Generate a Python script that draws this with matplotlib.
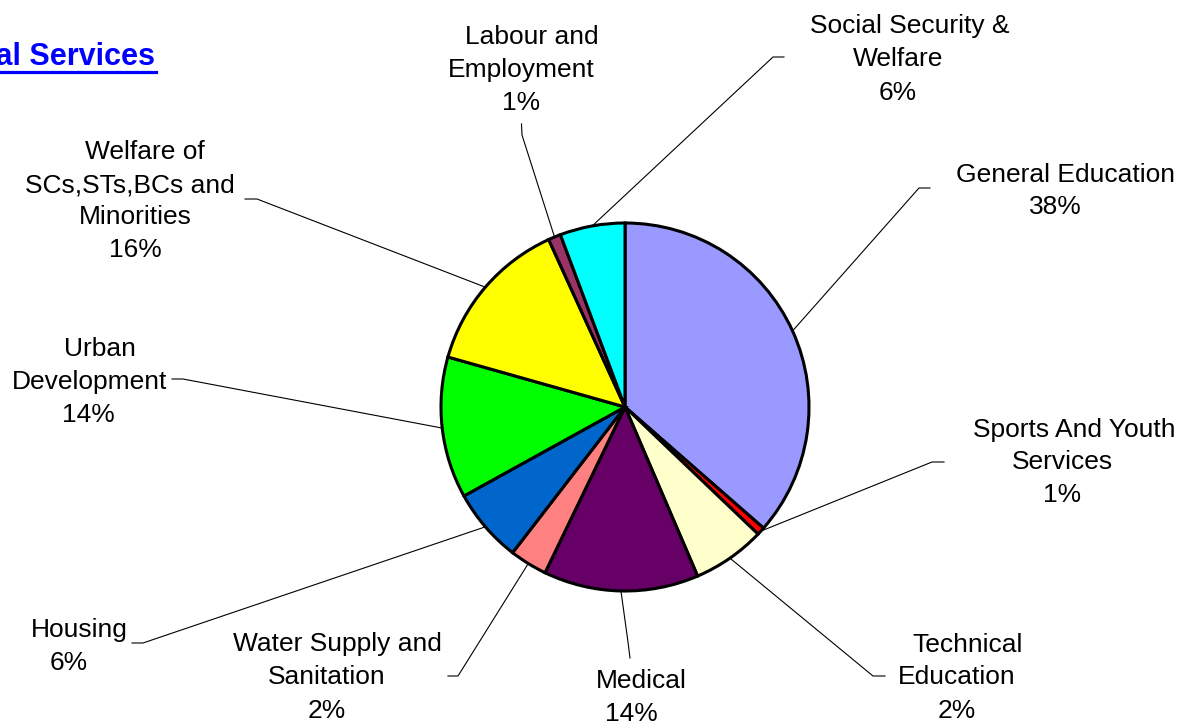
import numpy as np
import matplotlib
matplotlib.use("Agg")
import matplotlib.pyplot as plt
from matplotlib.lines import Line2D

plt.rcParams['font.family'] = ['Liberation Sans', 'DejaVu Sans']

# ---------------- data ----------------
categories = ["General Education", "Sports And Youth Services", "Technical Education",
              "Medical", "Water Supply and Sanitation", "Housing", "Urban Development",
              "Welfare of SCs,STs,BCs and Minorities", "Labour and Employment",
              "Social Security & Welfare"]
shares = [36.4, 0.7, 6.4, 13.6, 3.3, 6.5, 12.4, 13.8, 1.1, 5.7]
pct_labels = ["38%", "1%", "2%", "14%", "2%", "6%", "14%", "16%", "1%", "6%"]
colors = ["#9999FF", "#FF0000", "#FFFFCC", "#660066", "#FF8080", "#0066CC",
          "#00FF00", "#FFFF00", "#993366", "#00FFFF"]
title = "Social Services"

# ---------------- layout (pixel space, y down) ----------------
W, H = 1187, 724
center = (625, 407)
radius = 184

label_text_lines = [
    ["General Education"],
    ["Sports And Youth", "Services"],
    ["Technical", "Education"],
    ["Medical"],
    ["Water Supply and", "Sanitation"],
    ["Housing"],
    ["Urban", "Development"],
    ["Welfare of", "SCs,STs,BCs and", "Minorities"],
    ["Labour and", "Employment"],
    ["Social Security &", "Welfare"],
]
# per-line (x centre, baseline) ; last entry is the percentage line
line_pos = [
    [(1066, 181.5), (1055.5, 214.5)],
    [(1074, 436.5), (1062.5, 469), (1062, 501.5)],
    [(968, 651.5), (957, 684.5), (956.5, 717.5)],
    [(641.5, 688.5), (631, 721)],
    [(337.5, 651.5), (326.5, 684.5), (326.5, 717.5)],
    [(79.5, 637), (69, 670)],
    [(99.5, 355.5), (89.5, 388.5), (88.5, 421.5)],
    [(145, 159), (130, 192), (135, 224.5), (135, 257)],
    [(532, 43.5), (521.5, 76.5), (521.5, 109.5)],
    [(910, 33.5), (898, 66.5), (898, 99.5)],
]
# leader line bend points (elbow, end)
leader_pts = [
    [(919, 188), (930, 188)],
    [(932, 462), (944, 462)],
    [(873, 676), (885, 676)],
    [(628, 642), (630, 658)],
    [(458, 676), (448, 676)],
    [(143, 643), (132, 643)],
    [(183, 379), (172, 379)],
    [(257, 199), (245, 199)],
    [(522, 135), (521.5, 124)],
    [(773, 57), (784, 57)],
]

fig = plt.figure(figsize=(W / 100, H / 100), dpi=100)
ax = fig.add_axes([0, 0, 1, 1])
ax.set_xlim(0, W)
ax.set_ylim(H, 0)
ax.axis('off')

wedges, _ = ax.pie(shares, colors=colors, startangle=-90, counterclock=True,
                   center=center, radius=radius, frame=True,
                   wedgeprops=dict(edgecolor='black', linewidth=2.2))
ax.set_xlim(0, W)
ax.set_ylim(H, 0)
ax.set_aspect('equal', adjustable='box')
ax.axis('off')

fs = 19
for i, w in enumerate(wedges):
    mid = np.deg2rad((w.theta1 + w.theta2) / 2)
    sx = w.center[0] + w.r * np.cos(mid)
    sy = w.center[1] + w.r * np.sin(mid)
    xs = [sx] + [p[0] for p in leader_pts[i]]
    ys = [sy] + [p[1] for p in leader_pts[i]]
    ax.add_line(Line2D(xs, ys, color='black', linewidth=0.8, zorder=1))
    lines = label_text_lines[i] + [pct_labels[i]]
    for txt, (lx, ly) in zip(lines, line_pos[i]):
        ax.text(lx, ly, txt, ha='center', va='baseline', fontsize=fs, color='black')

t = ax.text(155, 65, title, ha='right', va='baseline', fontsize=22,
            fontweight='bold', color='#0000FF')
fig.canvas.draw()
bb = t.get_window_extent(fig.canvas.get_renderer())
inv = ax.transData.inverted()
(x0, _), (x1, _) = inv.transform([[bb.x0, bb.y0], [bb.x1, bb.y0]])
ax.add_line(Line2D([x0, x1 + 1], [71.5, 71.5], color='#0000FF', linewidth=2.3))

fig.savefig("out.png", dpi=100)
